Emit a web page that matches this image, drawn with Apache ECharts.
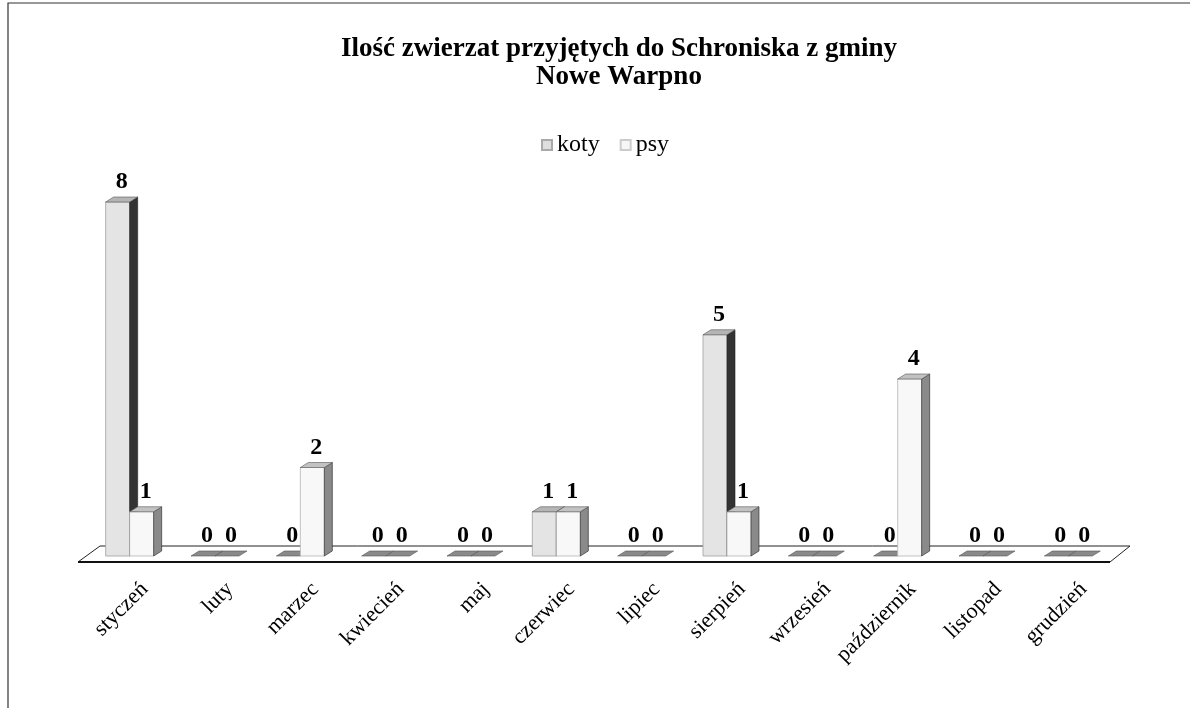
<!DOCTYPE html>
<html>
<head>
<meta charset="utf-8">
<script src="https://cdn.jsdelivr.net/npm/echarts@6/dist/echarts.min.js"></script>
<style>
  html, body { margin: 0; background: #fff; }
  #chart { width: 1190px; height: 708px; }
</style>
</head>
<body>
<div id="chart"></div>
<script>
var months = ['styczeń', 'luty', 'marzec', 'kwiecień', 'maj', 'czerwiec', 'lipiec', 'sierpień', 'wrzesień', 'październik', 'listopad', 'grudzień'];
var koty = [8, 0, 0, 0, 0, 1, 0, 5, 0, 0, 0, 0];
var psy = [1, 0, 2, 0, 0, 1, 0, 1, 0, 4, 0, 0];

var SERIF = '"Liberation Serif", "DejaVu Serif", serif';
// pseudo 3d depth
var DX = 8, DY = -5, BW = 24;
var looks = {
    koty: { front: '#e4e4e4', side: '#333333', top: '#b5b5b5', line: '#a0a0a0', off: -27 },
    psy: { front: '#f8f8f8', side: '#8a8a8a', top: '#c2c2c2', line: '#b4b4b4', off: -3 }
}

function boxItem (params, api) {
    var lk = looks[params.seriesName]
    var val = api.value(1)
    var base = api.coord([api.value(0), 0])
    var top = api.coord([api.value(0), val])
    var x0 = base[0] + lk.off, x1 = x0 + BW
    var yb = base[1], yt = top[1]
    var kids = []
    if (val > 0) {
        kids.push({ type: 'rect', shape: { x: x0, y: yt, width: BW, height: yb - yt },
            style: { fill: lk.front, stroke: lk.line, lineWidth: 0.8 } })
        kids.push({ type: 'polygon', shape: { points: [[x1, yt], [x1 + DX, yt + DY], [x1 + DX, yb + DY], [x1, yb]] },
            style: { fill: lk.side, stroke: '#222', lineWidth: 0.6 } })
    }
    kids.push({ type: 'polygon', shape: { points: [[x0, yt], [x1, yt], [x1 + DX, yt + DY], [x0 + DX, yt + DY]] },
        style: { fill: val > 0 ? lk.top : '#8a8a8a', stroke: '#555', lineWidth: 0.6 } })
    kids.push({ type: 'text', x: x0 + BW / 2 + DX / 2, y: yt + DY - 3,
        style: { text: String(val), fill: '#000', font: 'bold 24px ' + SERIF, align: 'center', verticalAlign: 'bottom' } })
    return { type: 'group', children: kids }
}

function floorItem (params, api) {
    var cs = params.coordSys
    var y0 = cs.y + cs.height
    var l = cs.x, r = cs.x + cs.width
    return {
        type: 'group',
        children: [
            { type: 'polygon', shape: { points: [[l - 12, y0 + 6], [r - 4, y0 + 6], [r + 16, y0 - 10], [l + 10, y0 - 10]] },
                style: { fill: '#fff', stroke: '#222', lineWidth: 1 } },
            { type: 'line', shape: { x1: l - 12, y1: y0 + 6, x2: r - 4, y2: y0 + 6 },
                style: { stroke: '#111', lineWidth: 2 } }
        ]
    }
}

var chart = echarts.init(document.getElementById('chart'))
var option = {
    backgroundColor: '#fff',
    animation: false,
    title: {
        text: 'Ilość zwierzat przyjętych do Schroniska z gminy\nNowe Warpno',
        left: 614,
        textAlign: 'center',
        top: 30,
        textStyle: { fontFamily: SERIF, fontWeight: 'bold', fontSize: 27, lineHeight: 28, color: '#000' }
    },
    legend: {
        data: ['koty', 'psy'],
        top: 128,
        left: 536,
        icon: 'rect',
        itemWidth: 10,
        itemHeight: 10,
        itemGap: 20,
        textStyle: { fontFamily: SERIF, fontSize: 24, color: '#000' }
    },
    grid: [
        { left: 90, right: 76, top: 202, bottom: 152 },
        // same grid shifted a little, only to place the slanted month names
        { left: 102, right: 64, top: 202, bottom: 152 }
    ],
    xAxis: [
        { type: 'category', data: months, gridIndex: 0, axisLine: { show: false }, axisTick: { show: false }, axisLabel: { show: false } },
        {
            type: 'category', data: months, gridIndex: 1,
            axisLine: { show: false },
            axisTick: { show: false },
            axisLabel: { interval: 0, rotate: 45, margin: 30, fontFamily: SERIF, fontSize: 22, color: '#000' }
        }
    ],
    yAxis: [
        { type: 'value', min: 0, max: 8, show: false, gridIndex: 0 },
        { type: 'value', min: 0, max: 8, show: false, gridIndex: 1 }
    ],
    graphic: [
        { type: 'polyline', shape: { points: [[8, 708], [8, 3], [1190, 3]] }, style: { stroke: '#333', lineWidth: 1.2, fill: null } }
    ],
    series: [
        { type: 'custom', name: 'floor', renderItem: floorItem, data: [[0, 0]], silent: true, z: 1 },
        { type: 'custom', name: 'koty', renderItem: boxItem, encode: { x: 0, y: 1 },
            itemStyle: { color: '#dedede', borderColor: '#aaa', borderWidth: 1 },
            data: koty.map(function (v, i) { return [i, v] }), z: 2 },
        { type: 'custom', name: 'psy', renderItem: boxItem, encode: { x: 0, y: 1 },
            itemStyle: { color: '#f6f6f6', borderColor: '#ccc', borderWidth: 1 },
            data: psy.map(function (v, i) { return [i, v] }), z: 3 }
    ]
}
chart.setOption(option)
</script>
</body>
</html>
